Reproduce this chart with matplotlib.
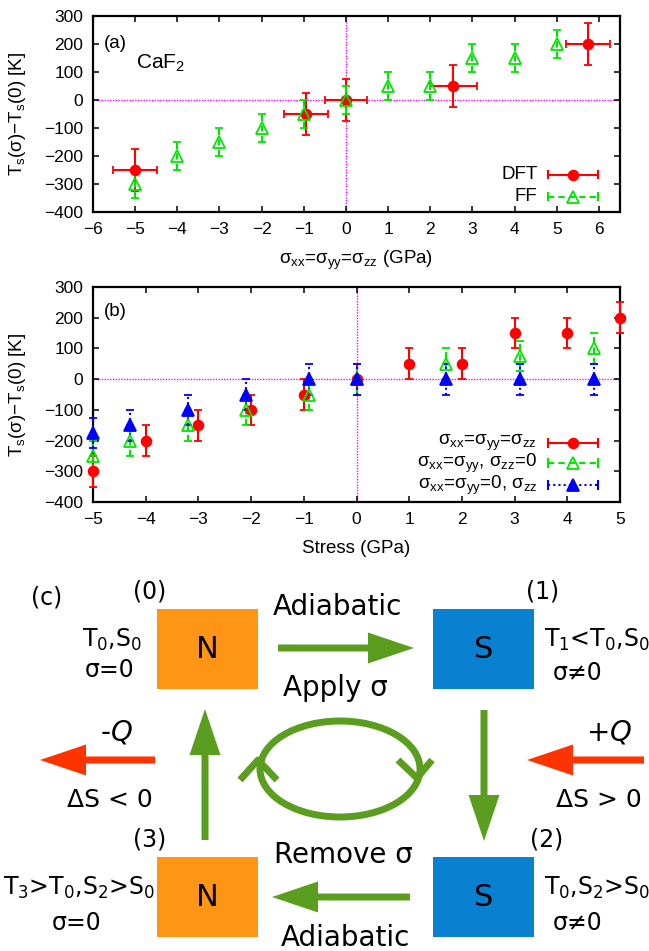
import numpy as np
import matplotlib
matplotlib.use("Agg")
import matplotlib.pyplot as plt
from matplotlib.patches import Rectangle, Ellipse, FancyArrow

plt.rcParams['font.family'] = ['Liberation Sans', 'DejaVu Sans']
plt.rcParams['mathtext.default'] = 'regular'

# ---- panel (a): CaF2, hydrostatic stress
dft_x = [-5, -0.95, 0, 2.55, 5.75]
dft_y = [-250, -50, 0, 50, 200]
dft_xerr = [0.52, 0.52, 0.5, 0.55, 0.52]
dft_yerr = [75, 75, 75, 75, 75]

ff_x = [-5, -4, -3, -2, -1, 0, 1, 2, 3, 4, 5]
ff_y = [-300, -200, -150, -100, -50, 0, 50, 50, 150, 150, 200]
ff_yerr = [50] * 11

# ---- panel (b): different stress states
hyd_x = [-5, -4, -3, -2, -1, 0, 1, 2, 3, 4, 5]
hyd_y = [-300, -200, -150, -100, -50, 0, 50, 50, 150, 150, 200]
hyd_yerr = [50] * 11

biax_x = [-5, -4.3, -3.2, -2.1, -0.9, 0, 1.7, 3.1, 4.5]
biax_y = [-250, -200, -150, -100, -50, 0, 50, 75, 100]
biax_yerr = [50] * 9

uni_x = [-5, -4.3, -3.2, -2.1, -0.9, 0, 1.7, 3.1, 4.5]
uni_y = [-175, -150, -100, -50, 0, 0, 0, 0, 0]
uni_yerr = [50] * 9

RED = '#ff0000'
GREEN = '#00e600'
BLUE = '#0000ff'
MAG = '#ff00ff'
LAB = 13.5

fig = plt.figure(figsize=(6.49, 9.51), dpi=100)


def style_axes(ax):
    for s in ax.spines.values():
        s.set_linewidth(1.6)
    ax.tick_params(direction='in', top=True, right=True, length=4.5, width=1.1,
                   labelsize=12.5, pad=7)
    ax.axhline(0, color=MAG, lw=1.0, ls=(0, (1, 1)), zorder=1)
    ax.axvline(0, color=MAG, lw=1.0, ls=(0, (1, 1)), zorder=1)
    ax.set_ylim(-400, 300)
    ax.set_yticks(np.arange(-400, 301, 100))
    ax.set_ylabel(r'T$_s$(σ)−T$_s$(0) [K]', fontsize=LAB)
    ax.yaxis.set_label_coords(-0.123, 0.5)


def eb(ax, x, y, yerr, color, marker, ls, xerr=None, filled=True, lw=1.5):
    c = ax.errorbar(x, y, yerr=yerr, xerr=xerr, fmt=marker, color=color,
                    mfc=color if filled else 'none', mec=color, ms=7 if marker == 'o' else 8,
                    mew=1.3, elinewidth=lw, capsize=3, capthick=lw, clip_on=False, zorder=3)
    for bl in c[2]:
        bl.set_linestyle(ls)
    return c


def key(ax, y, label, color, marker, ls, filled=True):
    x0, x1, xm = 0.864, 0.958, 0.911
    ax.plot([x0, x1], [y, y], transform=ax.transAxes, color=color, lw=1.5, ls=ls)
    for xc in (x0, x1):
        ax.plot([xc, xc], [y - 0.018, y + 0.018], transform=ax.transAxes, color=color, lw=1.5)
    ax.plot([xm], [y], transform=ax.transAxes, marker=marker, color=color,
            mfc=color if filled else 'none', mec=color, ms=7 if marker == 'o' else 8, mew=1.3)
    ax.text(0.843, y, label, transform=ax.transAxes, ha='right', va='center', fontsize=LAB)


# panel (a)
ax1 = fig.add_axes([93 / 649, 1 - 212 / 951, 527 / 649, 196 / 951])
style_axes(ax1)
eb(ax1, dft_x, dft_y, dft_yerr, RED, 'o', '-', xerr=dft_xerr)
eb(ax1, ff_x, ff_y, ff_yerr, GREEN, '^', (0, (3, 2)), filled=False)
ax1.set_xlim(-6, 6.5)
ax1.set_xticks(np.arange(-6, 7, 1))
ax1.set_xlabel('σ$_{xx}$=σ$_{yy}$=σ$_{zz}$ (GPa)', fontsize=LAB)
ax1.xaxis.set_label_coords(0.5, -0.19)
ax1.text(0.021, 0.862, '(a)', transform=ax1.transAxes, fontsize=13.5, va='center')
ax1.text(0.082, 0.76, 'CaF$_2$', transform=ax1.transAxes, fontsize=15, va='center')
key(ax1, 0.189, 'DFT', RED, 'o', '-')
key(ax1, 0.077, 'FF', GREEN, '^', (0, (3, 2)), filled=False)

# panel (b)
ax2 = fig.add_axes([93 / 649, 1 - 502 / 951, 527 / 649, 215 / 951])
style_axes(ax2)
eb(ax2, hyd_x, hyd_y, hyd_yerr, RED, 'o', '-')
eb(ax2, biax_x, biax_y, biax_yerr, GREEN, '^', (0, (3, 2)), filled=False)
eb(ax2, uni_x, uni_y, uni_yerr, BLUE, '^', (0, (1, 1.5)))
ax2.set_xlim(-5, 5)
ax2.set_xticks(np.arange(-5, 6, 1))
ax2.set_xlabel('Stress (GPa)', fontsize=LAB)
ax2.xaxis.set_label_coords(0.5, -0.175)
ax2.text(0.021, 0.884, '(b)', transform=ax2.transAxes, fontsize=13.5, va='center')
key(ax2, 0.274, 'σ$_{xx}$=σ$_{yy}$=σ$_{zz}$', RED, 'o', '-')
key(ax2, 0.181, 'σ$_{xx}$=σ$_{yy}$, σ$_{zz}$=0', GREEN, '^', (0, (3, 2)), filled=False)
key(ax2, 0.079, 'σ$_{xx}$=σ$_{yy}$=0, σ$_{zz}$', BLUE, '^', (0, (1, 1.5)))

# panel (c): stress cycle diagram, drawn in pixel coordinates
ax3 = fig.add_axes([0, 0, 1, 1], zorder=-1)
ax3.set_xlim(0, 649)
ax3.set_ylim(951, 0)
ax3.axis('off')

ORANGE = '#ff9514'
SBLUE = '#0a80d0'
ARROW_G = '#5b9e1f'
ARROW_R = '#ff3300'
TF = 'DejaVu Sans'

for (x0, y0, col, letter) in [(157, 609, ORANGE, 'N'), (433, 609, SBLUE, 'S'),
                              (157, 857, ORANGE, 'N'), (433, 857, SBLUE, 'S')]:
    ax3.add_patch(Rectangle((x0, y0), 101, 80, facecolor=col, edgecolor='none'))
    ax3.text(x0 + 50.5, y0 + 40, letter, ha='center', va='center', fontsize=22, family=TF)


def arrow(x, y, dx, dy, col):
    ax3.add_patch(FancyArrow(x, y, dx, dy, width=7, head_width=31, head_length=46,
                             length_includes_head=True, color=col, lw=0))


arrow(278, 648, 136, 0, ARROW_G)
arrow(484, 710, 0, 131, ARROW_G)
arrow(410, 897, -138, 0, ARROW_G)
arrow(205, 840, 0, -131, ARROW_G)
arrow(155, 760, -115, 0, ARROW_R)
arrow(644, 760, -117, 0, ARROW_R)

ax3.add_patch(Ellipse((340, 769), 160, 96, fill=False, edgecolor=ARROW_G, lw=5))
ax3.plot([240, 258, 277], [780, 760, 780], color=ARROW_G, lw=5, solid_capstyle='butt')
ax3.plot([398, 417, 432], [760, 778, 760], color=ARROW_G, lw=5, solid_capstyle='butt')

texts = [
    (47, 597, '(c)', 17), (150, 591, '(0)', 17), (543, 591, '(1)', 17),
    (150, 839, '(3)', 17), (547, 839, '(2)', 17),
    (337, 607, 'Adiabatic', 20), (335, 688, 'Apply σ', 20),
    (343, 855, 'Remove σ', 20), (345, 938, 'Adiabatic', 20),
    (112, 640, 'T$_0$,S$_0$', 17), (110, 670, 'σ=0', 17),
    (597, 640, 'T$_1$<T$_0$,S$_0$', 17), (578, 673, 'σ≠0', 17),
    (79, 888, 'T$_3$>T$_0$,S$_2$>S$_0$', 17), (77, 923, 'σ=0', 17),
    (597, 888, 'T$_0$,S$_2$>S$_0$', 17), (578, 923, 'σ≠0', 17),
    (116, 733, r'-$\mathit{Q}$', 20), (609, 733, r'+$\mathit{Q}$', 20),
    (110, 800, 'ΔS < 0', 18), (599, 800, 'ΔS > 0', 18),
]
for (x, y, s, fs) in texts:
    ax3.text(x, y, s, ha='center', va='center', fontsize=fs, family=TF)

fig.savefig('out.png', dpi=100)
